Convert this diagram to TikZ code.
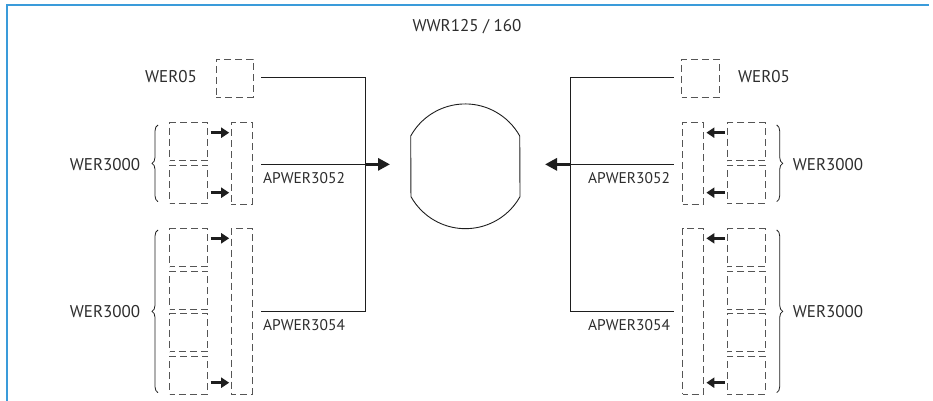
\documentclass[tikz,border=0pt]{standalone}
\usepackage{fontspec}
\setmainfont{PT Sans}
\usetikzlibrary{arrows.meta,decorations.pathreplacing}
\definecolor{frameblue}{RGB}{58,155,218}
\definecolor{txt}{RGB}{45,45,45}
\definecolor{dgray}{RGB}{85,85,85}
\definecolor{ln}{RGB}{30,30,30}
\tikzset{
  lbl/.style={text=txt,font=\fontsize{17}{20}\selectfont,inner sep=0,text height=11.9pt,text depth=0pt},
  albl/.style={lbl,font=\fontsize{15.5}{18}\selectfont,text height=10.9pt},
  dbox/.style={draw=dgray,line width=0.9pt,dash pattern=on 7pt off 4pt,dash phase=2pt,inner sep=0,minimum width=#1},
  sq/.style={dbox=38pt,minimum height=38pt},
  tall/.style={dbox=21pt},
  thin/.style={draw=ln,line width=1pt},
  sarrow/.style={draw=ln,line width=2.6pt,-{Triangle[length=8pt,width=10pt]}},
  barrow/.style={draw=ln,line width=3.4pt,-{Triangle[length=12pt,width=12pt]}},
  brc/.style={draw=ln,line width=0.8pt,decorate,decoration={brace,amplitude=6pt}},
}
\begin{document}
\begin{tikzpicture}[x=1pt,y=-1pt]
\useasboundingbox (0,0) rectangle (933,401);
% frame
\draw[frameblue,line width=1.8pt] (7,401) -- (7,5) -- (929,5);
% title
\node[lbl] (title) at (467,25.7) {WWR125 / 160};
% tank
\coordinate (tank) at (465.35,166.4);
\draw[ln,line width=0.9pt] (410.7,136) arc(-150.9:-29.1:62.4) -- (520,196.6) arc(29.1:150.9:62.4) -- cycle;
% ---------- left ----------
\node[sq,minimum width=37pt] (w05L) at (234.5,78) {};
\node[lbl] (tw05L) at (171,77) {WER05};
\node[sq] (sL1) at (188.8,141.7) {};
\node[sq] (sL2) at (188.8,184.2) {};
\node[sq] (sL3) at (188.8,247.5) {};
\node[sq] (sL4) at (188.8,290) {};
\node[sq] (sL5) at (188.8,332.5) {};
\node[sq] (sL6) at (188.8,375) {};
\node[tall,minimum height=81.3pt] (tL1) at (241.85,163.35) {};
\node[tall,minimum height=165.7pt] (tL2) at (241.85,311.15) {};
\draw[sarrow,shorten <=2.4pt,shorten >=1.7pt] ([yshift=9pt]sL1.east) -- ([yshift=9pt]sL1.east -| tL1.west);
\draw[sarrow,shorten <=2.4pt,shorten >=1.7pt] ([yshift=-8.5pt]sL2.east) -- ([yshift=-8.5pt]sL2.east -| tL1.west);
\draw[sarrow,shorten <=2.4pt,shorten >=1.7pt] ([yshift=9.2pt]sL3.east) -- ([yshift=9.2pt]sL3.east -| tL2.west);
\draw[sarrow,shorten <=2.4pt,shorten >=1.7pt] ([yshift=-7.7pt]sL6.east) -- ([yshift=-7.7pt]sL6.east -| tL2.west);
\coordinate (busL) at (365,0);
\coordinate (tipL) at (390,0);
\draw[thin] ([xshift=8pt]w05L.east) -| (busL |- tL2.east) -- ([xshift=8.3pt]tL2.east);
\draw[thin] ([xshift=8.3pt,yshift=-1pt]tL1.east) -- ([yshift=-1pt]busL |- tL1.east);
\draw[barrow] ([yshift=-1pt]busL |- tL1.east) -- ([yshift=-1pt]tipL |- tL1.east);
\node[albl] (aL1) at (304,178) {APWER3052};
\node[albl] (aL2) at (304,325) {APWER3054};
\draw[brc] (158,201.7) -- (158,125);
\draw[brc] (158,392.7) -- (158,230);
\node[lbl] (gL1) at (105,164.3) {WER3000};
\node[lbl] (gL2) at (105,311.7) {WER3000};
% ---------- right ----------
\node[sq,minimum width=37.6pt] (w05R) at (700.5,78) {};
\node[lbl] (tw05R) at (764,77) {WER05};
\node[sq] (sR1) at (746.35,141.7) {};
\node[sq] (sR2) at (746.35,184.2) {};
\node[sq] (sR3) at (746.35,247.5) {};
\node[sq] (sR4) at (746.35,290) {};
\node[sq] (sR5) at (746.35,332.5) {};
\node[sq] (sR6) at (746.35,375) {};
\node[tall,minimum height=81.3pt] (tR1) at (693,163.35) {};
\node[tall,minimum height=165.7pt] (tR2) at (693,311.15) {};
\draw[sarrow,shorten <=1.7pt,shorten >=2.4pt] ([yshift=9pt]sR1.west) -- ([yshift=9pt]sR1.west -| tR1.east);
\draw[sarrow,shorten <=1.7pt,shorten >=2.4pt] ([yshift=-8.5pt]sR2.west) -- ([yshift=-8.5pt]sR2.west -| tR1.east);
\draw[sarrow,shorten <=1.7pt,shorten >=2.4pt] ([yshift=9.2pt]sR3.west) -- ([yshift=9.2pt]sR3.west -| tR2.east);
\draw[sarrow,shorten <=1.7pt,shorten >=2.4pt] ([yshift=-7.7pt]sR6.west) -- ([yshift=-7.7pt]sR6.west -| tR2.east);
\coordinate (busR) at (570,0);
\coordinate (tipR) at (545,0);
\draw[thin] ([xshift=-7.6pt]w05R.west) -| (busR |- tR2.west) -- ([xshift=-8.4pt]tR2.west);
\draw[thin] ([xshift=-8.4pt,yshift=-1pt]tR1.west) -- ([yshift=-1pt]busR |- tR1.west);
\draw[barrow] ([yshift=-1pt]busR |- tR1.west) -- ([yshift=-1pt]tipR |- tR1.west);
\node[albl] (aR1) at (629,178) {APWER3052};
\node[albl] (aR2) at (629,325) {APWER3054};
\draw[brc] (776.7,125) -- (776.7,201.7);
\draw[brc] (776.7,230) -- (776.7,392.7);
\node[lbl] (gR1) at (828,164.3) {WER3000};
\node[lbl] (gR2) at (828,311.7) {WER3000};
\end{tikzpicture}
\end{document}
